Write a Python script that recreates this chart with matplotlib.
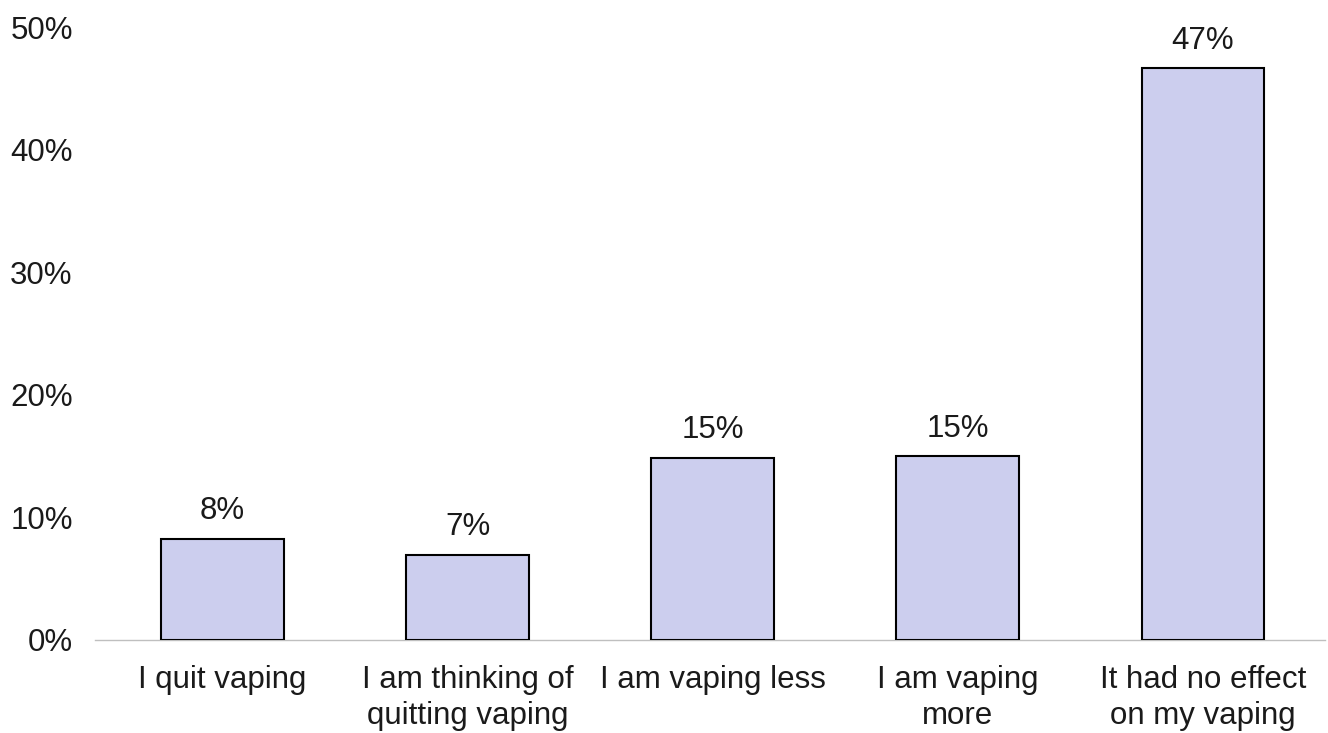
import matplotlib
matplotlib.use("Agg")
import matplotlib.pyplot as plt
import numpy as np
from matplotlib.ticker import FuncFormatter

plt.rcParams["font.family"] = ["Liberation Sans", "DejaVu Sans"]

categories = [
    "I quit vaping",
    "I am thinking of\nquitting vaping",
    "I am vaping less",
    "I am vaping\nmore",
    "It had no effect\non my vaping",
]
shares = [0.0825, 0.0695, 0.1485, 0.15, 0.4665]
value_labels = ["8%", "7%", "15%", "15%", "47%"]

fig = plt.figure(figsize=(13.28, 7.33), dpi=100)
ax = fig.add_axes([0.0715, 0.127, 0.9265, 0.836])

x = np.arange(len(categories))
bars = ax.bar(x, shares, width=0.5, color="#CCCEEE", edgecolor="black", linewidth=1.5, zorder=3)

for rect, label in zip(bars, value_labels):
    ax.annotate(label, (rect.get_x() + rect.get_width() / 2, rect.get_height()),
                xytext=(0, 9), textcoords="offset points",
                ha="center", va="bottom", fontsize=22.5, color="#1a1a1a")

ax.set_xlim(-0.52, 4.5)
ax.set_ylim(0, 0.5)
ax.set_yticks(np.arange(0, 0.51, 0.1))
ax.yaxis.set_major_formatter(FuncFormatter(lambda v, _: f"{v * 100:.0f}%"))
ax.set_xticks(x)
ax.set_xticklabels(categories, fontsize=22.5, color="#1a1a1a", linespacing=1.25)
ax.tick_params(axis="y", labelsize=22.5, labelcolor="#1a1a1a", length=0, pad=16)
ax.tick_params(axis="x", length=0, pad=18)

for side in ["top", "right", "left"]:
    ax.spines[side].set_visible(False)
ax.spines["bottom"].set_color("#BFBFBF")
ax.spines["bottom"].set_linewidth(1.0)

fig.savefig("out.png", dpi=100)
